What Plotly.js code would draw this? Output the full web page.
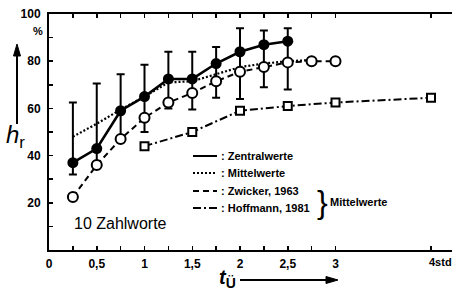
<!DOCTYPE html>
<html>
<head>
<meta charset="utf-8">
<script src="https://cdn.plot.ly/plotly-3.0.1.min.js"></script>
<style>html,body{margin:0;padding:0;background:#fff;}#chart{width:452px;height:292px;}</style>
</head>
<body>
<div id="chart"></div>
<script>
// ---- data ----
const tCentral = [0.25, 0.5, 0.75, 1, 1.25, 1.5, 1.75, 2, 2.25, 2.5];
const zentralwerte = [37, 43, 59, 65, 72.5, 72.5, 79, 84, 87, 88.5];
const tMittel = [0.25, 0.5, 0.75, 1, 1.25, 1.5, 1.75, 2, 2.25, 2.5, 2.75];
const mittelwerte = [48, 53.5, 59.5, 65, 71, 71.5, 74.5, 77.5, 79, 80, 80.5];
const errUpper = [62.5, 70.5, 74.5, 78.5, 84, 84, 86, 94, 93, 94];
const errLower = [32, 37, 46, 50, 60, 59.5, 64.5, 64, 69, 68];
const tZwicker = [0.25, 0.5, 0.75, 1, 1.25, 1.5, 1.75, 2, 2.25, 2.5, 2.75, 3];
const zwicker = [22.5, 36, 47, 56, 62.5, 66.5, 71.5, 75.5, 77.5, 79.5, 80, 80];
const tHoffmann = [1, 1.5, 2, 2.5, 3, 4];
const hoffmann = [44, 50, 59, 61, 62.5, 64.5];
const xTickVals = [0, 0.5, 1, 1.5, 2, 2.5, 3];
const xTickText = ['0', '0,5', '1', '1,5', '2', '2,5', '3'];
const xMinorVals = [0.25, 0.75, 1.25, 1.75, 2.25, 2.75, 4];
const yTickVals = [20, 40, 60, 80, 100];
const yTickText = ['20', '40', '60', '80', '100'];
const yMinorVals = [10, 30, 50, 70, 90];
const yRightVals = [10, 20, 30, 40, 50, 60, 70, 80, 90];
const legendLabels = [': Zentralwerte', ': Mittelwerte', ': Zwicker, 1963', ': Hoffmann, 1981'];

// ---- layout helpers (pixel -> paper) ----
const L = 49, R = 452, T = 14, B = 250;
const fx = x => (x - L) / (R - L);
const fy = y => (B - y) / (B - T);
const FONT = 'Liberation Sans, Arial, sans-serif';
const bold = (s) => ({family: FONT, size: s, color: '#000', weight: 700});

const errMid = mittelwerte.slice(0, tCentral.length);
const traces = [
  { // spread bars around the Mittelwerte
    x: tCentral, y: errMid, mode: 'markers', type: 'scatter',
    marker: {size: 1, color: 'rgba(0,0,0,0)'},
    error_y: {type: 'data', symmetric: false,
      array: errUpper.map((v, i) => v - errMid[i]),
      arrayminus: errMid.map((v, i) => v - errLower[i]),
      color: '#000', thickness: 2, width: 4},
    hoverinfo: 'skip'
  },
  {x: tMittel, y: mittelwerte, mode: 'lines', type: 'scatter',
    line: {color: '#000', width: 2.2, dash: '2px,2px'}},
  {x: tHoffmann, y: hoffmann, mode: 'lines+markers', type: 'scatter',
    line: {color: '#000', width: 2, dash: '8px,3px,2px,3px'},
    marker: {symbol: 'square', size: 8, color: '#fff', line: {color: '#000', width: 2}}},
  {x: tZwicker, y: zwicker, mode: 'lines+markers', type: 'scatter',
    line: {color: '#000', width: 2, dash: '6px,4px'},
    marker: {symbol: 'circle', size: 10, color: '#fff', line: {color: '#000', width: 2}}},
  {x: tCentral, y: zentralwerte, mode: 'lines+markers', type: 'scatter',
    line: {color: '#000', width: 2.5},
    marker: {symbol: 'circle', size: 11, color: '#000'}}
];

const legendY = [156, 173, 191, 208];
const legendDash = ['solid', '2px,2px', '6px,4px', '8px,3px,2px,3px'];
const shapes = legendY.map((y, i) => ({
  type: 'line', xref: 'paper', yref: 'paper',
  x0: fx(193), x1: fx(217), y0: fy(y), y1: fy(y),
  line: {color: '#000', width: 2, dash: legendDash[i]}
}));
// axis-name arrows (decoration)
shapes.push(
  {type: 'line', xref: 'paper', yref: 'paper', x0: fx(17), x1: fx(17), y0: fy(124), y1: fy(54),
    line: {color: '#000', width: 2}},
  {type: 'path', xref: 'paper', yref: 'paper',
    path: `M ${fx(17)},${fy(44)} L ${fx(13.5)},${fy(56)} L ${fx(20.5)},${fy(56)} Z`,
    fillcolor: '#000', line: {color: '#000', width: 1}},
  {type: 'line', xref: 'paper', yref: 'paper', x0: fx(240), x1: fx(328), y0: fy(280), y1: fy(280),
    line: {color: '#000', width: 2}},
  {type: 'path', xref: 'paper', yref: 'paper',
    path: `M ${fx(338)},${fy(280)} L ${fx(326)},${fy(276.5)} L ${fx(326)},${fy(283.5)} Z`,
    fillcolor: '#000', line: {color: '#000', width: 1}}
);

const annotations = legendY.map((y, i) => ({
  xref: 'paper', yref: 'paper', x: fx(219), y: fy(y), xanchor: 'left', yanchor: 'middle',
  text: legendLabels[i], showarrow: false, font: bold(11)
}));
annotations.push(
  {xref: 'paper', yref: 'paper', x: fx(322), y: fy(202), xanchor: 'center', yanchor: 'middle',
    text: '}', showarrow: false, font: {family: FONT, size: 32, color: '#000'}},
  {xref: 'paper', yref: 'paper', x: fx(328), y: fy(202), xanchor: 'left', yanchor: 'middle',
    text: 'Mittelwerte', showarrow: false, font: bold(11)},
  {xref: 'paper', yref: 'paper', x: fx(72), y: fy(223), xanchor: 'left', yanchor: 'middle',
    text: '10 Zahlworte', showarrow: false, font: {family: FONT, size: 16, color: '#000'}},
  {xref: 'paper', yref: 'paper', x: fx(38), y: fy(31), xanchor: 'center', yanchor: 'middle',
    text: '%', showarrow: false, font: bold(11)},
  {xref: 'paper', yref: 'paper', x: fx(427), y: fy(262), xanchor: 'left', yanchor: 'middle',
    text: '4std', showarrow: false, font: bold(11)},
  {xref: 'paper', yref: 'paper', x: fx(15), y: fy(136), xanchor: 'center', yanchor: 'middle',
    text: '<i>h</i><sub>r</sub>', showarrow: false, font: {family: FONT, size: 24, color: '#000'}},
  {xref: 'paper', yref: 'paper', x: fx(227), y: fy(278), xanchor: 'center', yanchor: 'middle',
    text: '<i>t</i><sub>Ü</sub>', showarrow: false, font: {family: FONT, size: 20, color: '#000', weight: 700}}
);

const tickStyle = {ticks: 'inside', ticklen: 4, tickwidth: 1.5, tickcolor: '#000'};
const layout = {
  width: 452, height: 292,
  margin: {l: L, r: 452 - R, t: T, b: 292 - B, pad: 0},
  paper_bgcolor: '#fff', plot_bgcolor: '#fff',
  showlegend: false,
  xaxis: Object.assign({range: [0, (R - L) / 95.5], tickmode: 'array', tickvals: xTickVals, ticktext: xTickText,
    minor: Object.assign({tickmode: 'array', tickvals: xMinorVals}, tickStyle),
    showline: true, linewidth: 2, linecolor: '#000', mirror: 'ticks',
    showgrid: false, zeroline: false, tickfont: bold(12), ticklabelstandoff: 2}, tickStyle),
  yaxis: Object.assign({range: [0, 100], tickmode: 'array', tickvals: yTickVals, ticktext: yTickText,
    minor: Object.assign({tickmode: 'array', tickvals: yMinorVals}, tickStyle),
    showline: true, linewidth: 2, linecolor: '#000',
    showgrid: false, zeroline: false, tickfont: bold(12), ticklabelstandoff: 4}, tickStyle),
  yaxis2: Object.assign({range: [0, 100], overlaying: 'y', side: 'right', anchor: 'x',
    tickmode: 'array', tickvals: yRightVals,
    showticklabels: false, showline: false, showgrid: false, zeroline: false}, tickStyle),
  shapes: shapes,
  annotations: annotations
};

Plotly.newPlot('chart', traces, layout, {staticPlot: true, displayModeBar: false});
</script>
</body>
</html>
